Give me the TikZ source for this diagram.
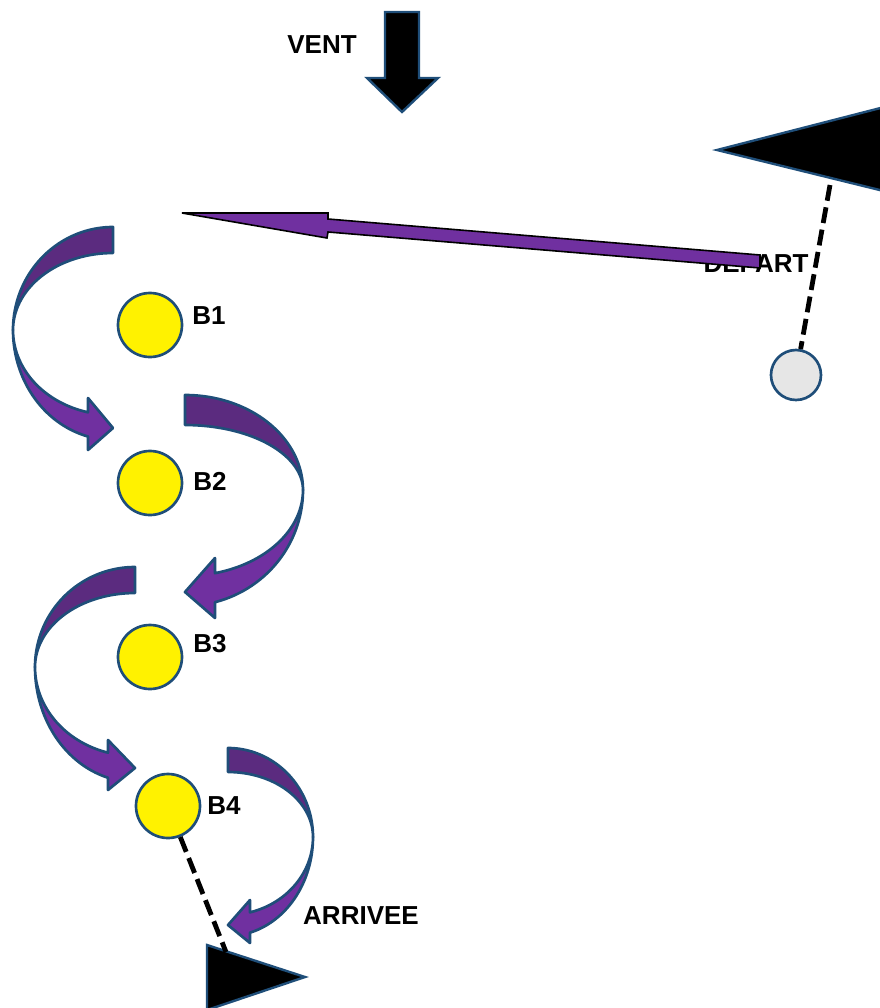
\documentclass[tikz,border=0pt]{standalone}
\usepackage{fontspec}
\setmainfont{Liberation Sans}
\definecolor{bordblue}{HTML}{1F4E79}
\definecolor{purpledark}{HTML}{5B2B7F}
\definecolor{purplelight}{HTML}{7030A0}
\definecolor{depgray}{HTML}{E6E6E6}
\tikzset{
  lbl/.style={font=\bfseries\fontsize{19.5}{22}\selectfont, inner sep=0pt},
  buoy/.style={circle, draw=bordblue, line width=2pt, fill=yellow, minimum size=48pt, inner sep=0pt},
  startbuoy/.style={circle, draw=bordblue, line width=2pt, fill=depgray, minimum size=37.5pt, inner sep=0pt},
  bandback/.style={fill=purpledark, draw=bordblue, line width=2pt, line join=round},
  bandfront/.style={fill=purplelight, draw=bordblue, line width=2pt, line join=round},
  flagshape/.style={fill=black, draw=bordblue, line width=1.8pt},
  tether/.style={line width=3.6pt, dash pattern=on 12pt off 5pt},
  windarrow/.style={fill=purplelight, draw=black, line width=1.2pt, line join=miter},
}
\begin{document}
\begin{tikzpicture}[x=0.75pt, y=-0.75pt]
\useasboundingbox (0,0) rectangle (880,1008);

% wind
\node[lbl] (vent) at (322,45) {VENT};
\draw[flagshape] (385,12) -- (419,12) -- (419,78) -- (438,78) -- (402,112) -- (367,78) -- (385,78) -- cycle;

% start flag and start buoy
\draw[flagshape] (717,150) -- (900,103) -- (900,195) -- cycle;
\coordinate (flagtop) at (830,185);
\node[startbuoy] (start) at (796,375) {};
\draw[tether] (flagtop) -- (start);

% DEPART label and long arrow
\node[lbl] (departlbl) at (756,264) {DEPART};
\draw[windarrow] (760,255) -- (328,219) -- (328,213) -- (182,213) -- (327,238) -- (328,232) -- (760,268) -- cycle;

% curved arrow 1 (left of B1)
\draw[bandback] plot[domain=270:180,samples=40] ({113+100*cos(\x)},{330+103*sin(\x)})
  -- plot[domain=180:270,samples=40] ({113+100*cos(\x)},{330+77*sin(\x)}) -- cycle;
\draw[bandfront] plot[domain=180:104.48,samples=40] ({113+100*cos(\x)},{330+110*sin(\x)})
  -- (88,450) -- (113,428) -- (88,398)
  -- plot[domain=104.48:180,samples=40] ({113+100*cos(\x)},{330+85*sin(\x)}) -- cycle;

% curved arrow 2 (right of B2)
\draw[bandback] plot[domain=-90:0,samples=40] ({185+118*cos(\x)},{490+95*sin(\x)})
  -- plot[domain=0:-90,samples=40] ({185+118*cos(\x)},{490+65*sin(\x)}) -- cycle;
\draw[bandfront] plot[domain=0:75.3,samples=40] ({185+118*cos(\x)},{490+116*sin(\x)})
  -- (215,618) -- (185,592) -- (215,558)
  -- plot[domain=75.3:0,samples=40] ({185+118*cos(\x)},{490+86*sin(\x)}) -- cycle;

% curved arrow 3 (left of B3)
\draw[bandback] plot[domain=270:180,samples=40] ({135+100*cos(\x)},{667+100*sin(\x)})
  -- plot[domain=180:270,samples=40] ({135+100*cos(\x)},{667+74*sin(\x)}) -- cycle;
\draw[bandfront] plot[domain=180:105.66,samples=40] ({135+100*cos(\x)},{667+115*sin(\x)})
  -- (108,790) -- (135,768) -- (108,740)
  -- plot[domain=105.66:180,samples=40] ({135+100*cos(\x)},{667+89*sin(\x)}) -- cycle;

% curved arrow 4 (right of B4)
\draw[bandback] plot[domain=-90:0,samples=40] ({228+85*cos(\x)},{837+89*sin(\x)})
  -- plot[domain=0:-90,samples=40] ({228+85*cos(\x)},{837+65*sin(\x)}) -- cycle;
\draw[bandfront] plot[domain=0:75.0,samples=40] ({228+85*cos(\x)},{837+99*sin(\x)})
  -- (250,943) -- (228,925) -- (250,900)
  -- plot[domain=75.0:0,samples=40] ({228+85*cos(\x)},{837+78*sin(\x)}) -- cycle;

% buoys
\node[buoy] (b1) at (150,325) {};
\node[lbl] (b1lbl) at (209,316) {B1};
\node[buoy] (b2) at (150,483) {};
\node[lbl] (b2lbl) at (210,481) {B2};
\node[buoy] (b3) at (150,657) {};
\node[lbl] (b3lbl) at (210,644) {B3};
\node[buoy] (b4) at (168,806) {};
\node[lbl] (b4lbl) at (224,806) {B4};

% finish
\node[lbl] (arrlbl) at (361,916) {ARRIVEE};
\draw[flagshape] (207,945) -- (305,977) -- (207,1010) -- cycle;
\coordinate (flagbot) at (226,952);
\draw[tether] (b4) -- (flagbot);
\end{tikzpicture}
\end{document}
